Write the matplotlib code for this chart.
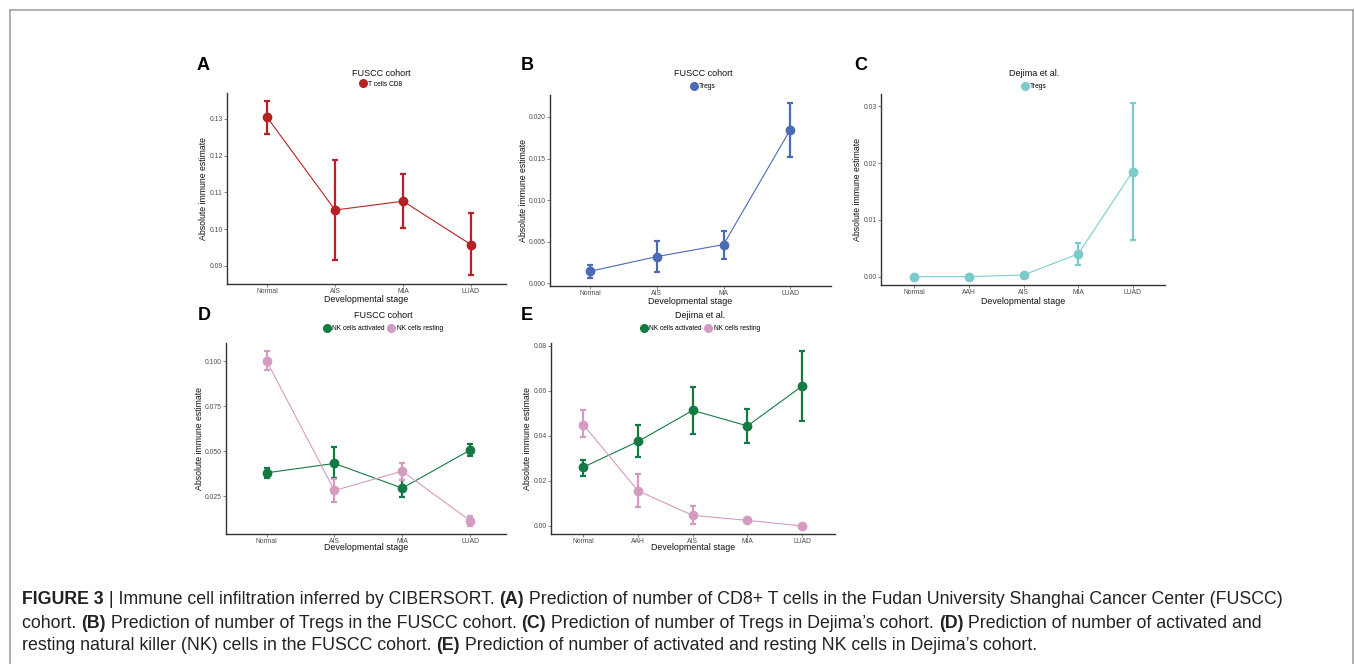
import numpy as np
import matplotlib
matplotlib.use("Agg")
import matplotlib.pyplot as plt
from matplotlib.lines import Line2D

plt.rcParams["font.family"] = ["Liberation Sans", "DejaVu Sans"]

W, H = 1355, 664

# ─── DATA ────────────────────────────────────────────────────────────────────
stages_fuscc = ["Normal", "AIS", "MIA", "LUAD"]
stages_fuscc_b = ["Normal", "AIS", "MA", "LUAD"]
stages_dejima = ["Normal", "AAH", "AIS", "MIA", "LUAD"]

# A: FUSCC, T cells CD8
cd8_mean = [0.1304, 0.1052, 0.1076, 0.0958]
cd8_low = [0.1259, 0.0916, 0.1004, 0.0875]
cd8_high = [0.1347, 0.1187, 0.1150, 0.1044]

# B: FUSCC, Tregs
treg_f_mean = [0.00141, 0.00318, 0.00463, 0.01847]
treg_f_low = [0.00064, 0.00129, 0.00294, 0.01520]
treg_f_high = [0.00213, 0.00503, 0.00632, 0.02165]

# C: Dejima, Tregs
treg_d_mean = [0.0000, 0.0000, 0.0003, 0.0040, 0.01853]
treg_d_low = [0.0000, 0.0000, 0.0003, 0.00206, 0.00653]
treg_d_high = [0.0000, 0.0000, 0.0003, 0.00594, 0.0307]

# D: FUSCC, NK cells
nka_f_mean = [0.0380, 0.0432, 0.0295, 0.0506]
nka_f_low = [0.0352, 0.0350, 0.0248, 0.0474]
nka_f_high = [0.0406, 0.0522, 0.0339, 0.0541]
nkr_f_mean = [0.1000, 0.0282, 0.0389, 0.0115]
nkr_f_low = [0.0952, 0.0220, 0.0341, 0.0085]
nkr_f_high = [0.1054, 0.0348, 0.0432, 0.0143]

# E: Dejima, NK cells
nka_d_mean = [0.0261, 0.0375, 0.0513, 0.0444, 0.0621]
nka_d_low = [0.0224, 0.0304, 0.0407, 0.0369, 0.0468]
nka_d_high = [0.0293, 0.0446, 0.0615, 0.0519, 0.0775]
nkr_d_mean = [0.0450, 0.0156, 0.0047, 0.0025, 0.0000]
nkr_d_low = [0.0393, 0.0082, 0.0007, 0.0020, 0.0000]
nkr_d_high = [0.0513, 0.0230, 0.0089, 0.0030, 0.0000]

C_RED = "#B52226"
C_BLUE = "#4C6BB5"
C_CYAN = "#7CCBCB"
C_GREEN = "#137A43"
C_PINK = "#D59CC1"

# ─── LAYOUT HELPERS ─────────────────────────────────────────────────────────
fig = plt.figure(figsize=(W / 100, H / 100), dpi=100)


def fx(x):
    return x / W


def fy(y):
    return 1 - y / H


def make_axes(l, t, r, b):
    return fig.add_axes([fx(l), fy(b), (r - l) / W, (b - t) / H])


def panel(box, stages, series, xlim, ylim, yticks, yfmt, letter, letter_xy,
          title, title_xy, leg_y, ylab_x, xlab_y):
    ax = make_axes(*box)
    x = np.arange(len(stages))
    handles = []
    for mean, low, high, color, name in series:
        mean = np.array(mean)
        err = [mean - np.array(low), np.array(high) - mean]
        ax.plot(x, mean, color=color, lw=0.8, zorder=2)
        ax.errorbar(x, mean, yerr=err, fmt="none", ecolor=color, elinewidth=1.6,
                    capsize=2.5, capthick=1.6, zorder=3)
        ax.plot(x, mean, "o", color=color, ms=6, zorder=4)
        handles.append(Line2D([], [], marker="o", color=color, ls="none", ms=5.5, label=name))
    ax.set_xlim(*xlim)
    ax.set_ylim(*ylim)
    ax.set_xticks(x)
    ax.set_xticklabels(stages)
    ax.set_yticks(yticks)
    ax.set_yticklabels([yfmt.format(v) for v in yticks])
    ax.tick_params(labelsize=4.9, labelcolor="#4D4D4D", color="#555555",
                   length=2, width=0.5, pad=1.2)
    for s in ["top", "right"]:
        ax.spines[s].set_visible(False)
    for s in ["left", "bottom"]:
        ax.spines[s].set_color("#333333")
        ax.spines[s].set_linewidth(1.0)

    cx = (box[0] + box[2]) / 2
    fig.text(fx(ylab_x), fy((box[1] + box[3]) / 2), "Absolute immune estimate",
             rotation=90, ha="center", va="center", fontsize=6.3, color="#111111")
    fig.text(fx(cx), fy(xlab_y), "Developmental stage", ha="center", va="center",
             fontsize=6.4, color="#111111")
    fig.text(fx(letter_xy[0]), fy(letter_xy[1]), letter, ha="left", va="center",
             fontsize=13, fontweight="bold")
    fig.text(fx(title_xy[0]), fy(title_xy[1]), title, ha="center", va="center",
             fontsize=6.5, color="#111111")
    fig.legend(handles=handles, loc="center", bbox_to_anchor=(fx(title_xy[0]), fy(leg_y)),
               ncol=len(handles), frameon=False, fontsize=4.8, handletextpad=0.3,
               columnspacing=0.5, handlelength=1.0, borderpad=0)
    return ax


panel((227, 93, 506, 284), stages_fuscc,
      [(cd8_mean, cd8_low, cd8_high, C_RED, "T cells CD8")],
      (-0.59, 3.515), (0.0851, 0.137), [0.09, 0.10, 0.11, 0.12, 0.13], "{:.2f}",
      "A", (197, 66), "FUSCC cohort", (381, 73), 84, 204, 299)

panel((550, 95, 831, 286), stages_fuscc_b,
      [(treg_f_mean, treg_f_low, treg_f_high, C_BLUE, "Tregs")],
      (-0.6, 3.61), (-0.00036, 0.02265), [0.0, 0.005, 0.010, 0.015, 0.020], "{:.3f}",
      "B", (521, 66), "FUSCC cohort", (703, 74), 87, 523, 301)

panel((881, 94, 1165, 285), stages_dejima,
      [(treg_d_mean, treg_d_low, treg_d_high, C_CYAN, "Tregs")],
      (-0.61, 4.59), (-0.00147, 0.0322), [0.0, 0.01, 0.02, 0.03], "{:.2f}",
      "C", (854, 66), "Dejima et al.", (1034, 74), 87, 858, 301)

panel((226, 343, 506, 534), stages_fuscc,
      [(nka_f_mean, nka_f_low, nka_f_high, C_GREEN, "NK cells activated"),
       (nkr_f_mean, nkr_f_low, nkr_f_high, C_PINK, "NK cells resting")],
      (-0.6, 3.53), (0.00406, 0.110), [0.025, 0.050, 0.075, 0.100], "{:.3f}",
      "D", (198, 316), "FUSCC cohort", (383, 315), 329, 199, 548)

panel((551, 343, 835, 534), stages_dejima,
      [(nka_d_mean, nka_d_low, nka_d_high, C_GREEN, "NK cells activated"),
       (nkr_d_mean, nkr_d_low, nkr_d_high, C_PINK, "NK cells resting")],
      (-0.59, 4.6), (-0.00356, 0.0812), [0.0, 0.02, 0.04, 0.06, 0.08], "{:.2f}",
      "E", (521, 316), "Dejima et al.", (700, 315), 329, 528, 548)

# ─── FRAME ──────────────────────────────────────────────────────────────────
frame_kw = dict(color="#9A9A9A", lw=1.1, transform=fig.transFigure)
fig.add_artist(Line2D([fx(9.5), fx(9.5)], [fy(9.5), 0], **frame_kw))
fig.add_artist(Line2D([fx(9.5), fx(1353)], [fy(9.5), fy(9.5)], **frame_kw))
fig.add_artist(Line2D([fx(1353), fx(1353)], [fy(9.5), 0], **frame_kw))

# ─── CAPTION ────────────────────────────────────────────────────────────────
caption = [
    [("FIGURE 3", True), (" | Immune cell infiltration inferred by CIBERSORT. ", False), ("(A)", True),
     (" Prediction of number of CD8+ T cells in the Fudan University Shanghai Cancer Center (FUSCC)", False)],
    [("cohort. ", False), ("(B)", True), (" Prediction of number of Tregs in the FUSCC cohort. ", False),
     ("(C)", True), (" Prediction of number of Tregs in Dejima\u2019s cohort. ", False), ("(D)", True),
     (" Prediction of number of activated and", False)],
    [("resting natural killer (NK) cells in the FUSCC cohort. ", False), ("(E)", True),
     (" Prediction of number of activated and resting NK cells in Dejima\u2019s cohort.", False)],
]
cap_y = [600, 623, 645]
renderer = fig.canvas.get_renderer()
for line, yy in zip(caption, cap_y):
    xpos = fx(22)
    for txt, bold in line:
        t = fig.text(xpos, fy(yy), txt, ha="left", va="center", fontsize=12.8,
                     fontweight="bold" if bold else "normal", color="#222222")
        bb = t.get_window_extent(renderer=renderer)
        xpos = bb.x1 / W

fig.savefig("out.png", dpi=100)
